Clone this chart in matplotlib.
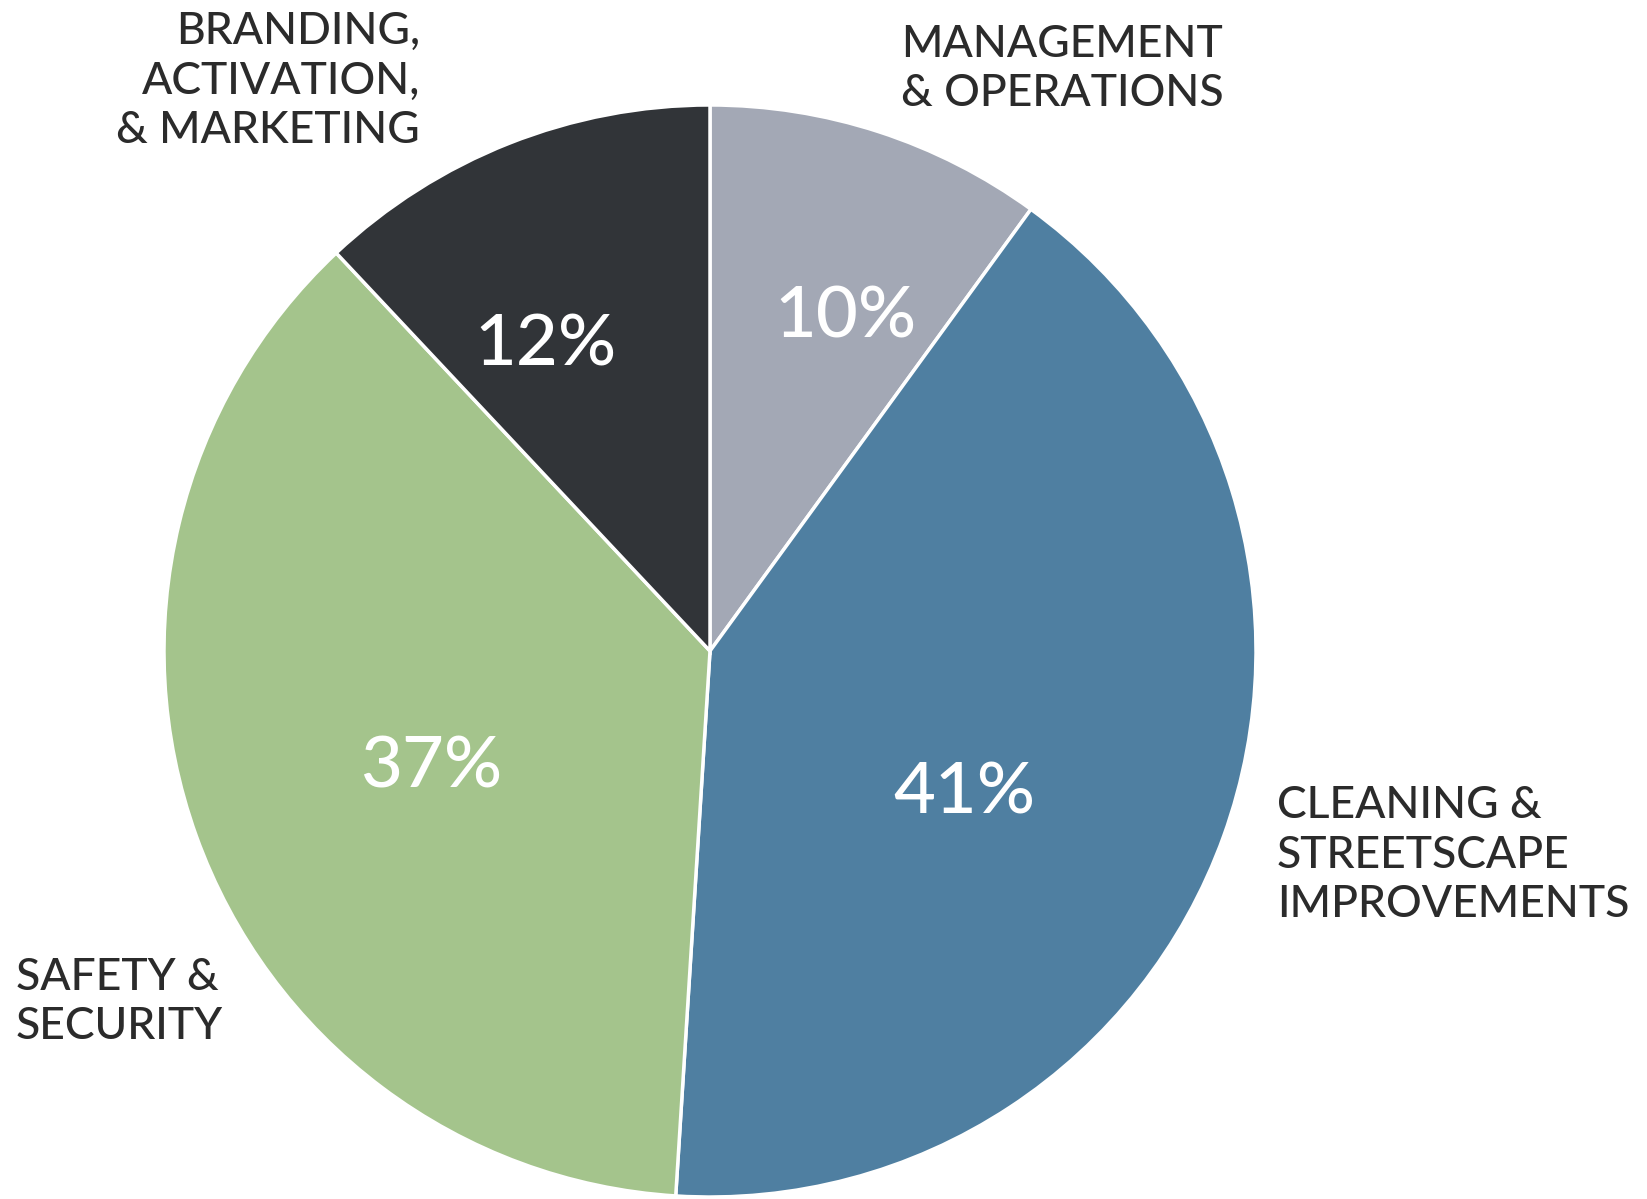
import matplotlib.pyplot as plt

# Data
categories = ['MANAGEMENT\n& OPERATIONS', 'CLEANING &\nSTREETSCAPE\nIMPROVEMENTS',
              'SAFETY &\nSECURITY', 'BRANDING,\nACTIVATION,\n& MARKETING']
shares = [10, 41, 37, 12]
pct_labels = ['10%', '41%', '37%', '12%']
colors = ['#a3a8b5', '#4f7fa1', '#a4c48c', '#313438']

W, H = 1647, 1199
fig = plt.figure(figsize=(W / 100, H / 100), dpi=100)
ax = fig.add_axes([0, 0, 1, 1])

cx, cy, r = 710, H - 651, 546
ax.pie(shares, colors=colors, startangle=90, counterclock=False,
       center=(cx, cy), radius=r,
       wedgeprops=dict(edgecolor='white', linewidth=2.5))
ax.set_xlim(0, W)
ax.set_ylim(0, H)
ax.set_aspect('equal')
ax.axis('off')

font = 'Lato'

# percentage labels inside the wedges
pct_pos = [(846, 318), (964, 793), (431, 768), (546, 345)]
for txt, (x, y) in zip(pct_labels, pct_pos):
    ax.text(x, H - y, txt, fontsize=52, color='white', family=font,
            weight='medium', ha='center', va='center')

# category labels outside
cat_pos = [(901, 69, 'left'), (1277, 855, 'left'), (16, 1002, 'left'), (420, 81, 'right')]
for txt, (x, y, ha) in zip(categories, cat_pos):
    ax.text(x, H - y, txt, fontsize=32, color='#2b2b2b', family=font,
            weight='medium', ha=ha, va='center', linespacing=1.25,
            multialignment=ha)

plt.savefig('out.png', dpi=100)
